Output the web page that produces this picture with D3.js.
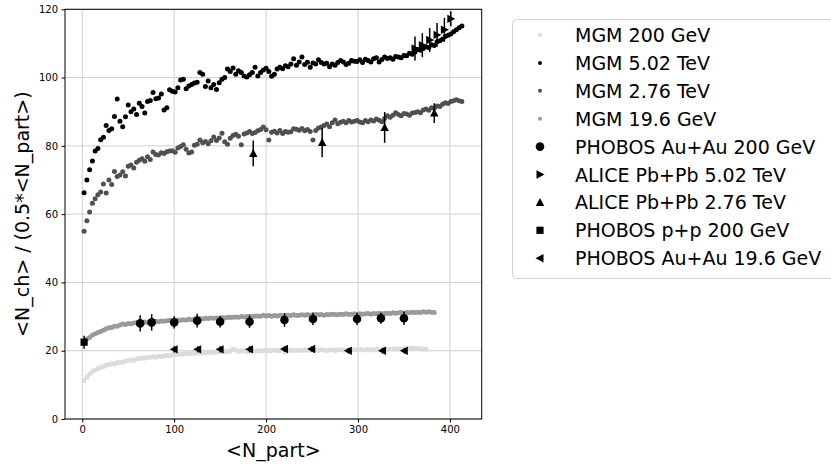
<!DOCTYPE html>
<html><head><meta charset="utf-8">
<script src="https://cdn.jsdelivr.net/npm/d3@7"></script>
<style>body{margin:0;background:#fff}svg{display:block}text{font-family:"DejaVu Sans",sans-serif}</style>
</head><body>
<svg id="c" width="831" height="464"></svg>
<script>
// ---- data ----
const nPart = [2,5,8,11,14,17,20,23,26,29,32,35,38,41,44,47,50,53,56,59,62,65,68,71,74,77,80,83,86,89,92,95,98,101,104,107,110,113,116,119,122,125,128,131,134,137,140,143,146,149,152,155,158,161,164,167,170,173,176,179,182,185,188,191,194,197,200,203,206,209,212,215,218,221,224,227,230,233,236,239,242,245,248,251,254,257,260,263,266,269,272,275,278,281,284,287,290,293,296,299,302,305,308,311,314,317,320,323,326,329,332,335,338,341,344,347,350,353,356,359,362,365,368,371,374,377,380,383,386,389,392,395,398,401,404,407,410,413];

const mgm502 = [66.3,70,73,75.6,78.5,79.2,81.8,82.5,86,84.5,85,88.6,93.7,87.2,85.6,88.5,92,90,90.8,89.2,92.5,91.5,89.6,93,93.3,95.6,93.8,94,95.2,90.5,91.2,96.4,96,95.8,97,99.3,99.5,96.7,97.5,98,98.4,98.6,101.5,101,97.4,99,97,98,96.5,98.5,99.5,100,102.5,101.8,102.8,101,102,101.5,100.5,100.2,100.8,101.5,103,100.5,101.5,102.2,102.7,101.8,100.4,101,102.5,103,102.6,103.5,103.2,104,105.5,103.6,104.6,106,103.8,104.5,103,104.3,104,105.2,104.4,104,104.2,103.2,104,103.6,104.4,105,104.6,103.8,104.2,105,104.8,104.7,105.2,104.4,105.4,105,104.6,105.5,105.8,104.6,105.3,106,105.6,105.8,105.4,106.2,106,105.8,106.5,106.4,107.1,106.8,107.5,108.2,108,108.5,109,108.8,109.6,109.4,110.5,110.8,111.2,112,112.4,112.8,113.4,114,114.6,115.1];

const mgm276 = [55,58.1,60.6,63.2,64.5,65.7,66.5,68.8,66.2,70,68.7,72.5,71,71.5,72.4,71.2,74,74.4,73.5,75.2,75.8,76.2,75.5,76.8,76,78.2,77.5,77.3,78,77.8,78.3,78.5,78.6,78.1,79.4,79.8,80.3,79,77.9,78.2,80.2,80.5,81.7,80.9,81.3,80.6,81.5,82.6,81.6,82.3,83.7,81.2,80.5,82.2,83,83.4,82.8,80.3,83.5,83.8,84.2,83.6,83.9,84.4,84.8,85.5,84.7,81.7,84,84.3,83.8,84.5,83.6,84.2,84,84.1,85,84.9,84.6,85.1,84.4,84.8,84.2,81.7,84.5,85.2,85.5,86,86.4,85.6,86.8,87.6,86.5,86.9,87.2,86.8,87.4,87,87.2,87.4,87,86.8,87.4,87.1,87.6,87.3,87.9,87.5,87.1,88,88.8,88.4,89,89.7,89.2,88.8,89.5,89.3,89,89.6,89.8,90,89.7,90.5,90.8,90.4,91.2,91,91.7,91.5,92.2,92.6,92.4,93,93.2,93.5,93.2,93];

const mgm196 = [22.8,23.4,23.9,24.5,25,25.3,25.6,26,26.4,26.7,26.8,27.2,27.2,27.5,27.8,27.7,28,27.9,28.1,28.2,28.3,28.1,28.4,28.3,28.5,28.4,28.6,28.5,28.7,28.6,28.8,28.9,28.7,28.9,29,28.9,29.1,29,29.2,29.1,29.3,29.2,29.4,29.3,29.5,29.4,29.6,29.5,29.6,29.5,29.7,29.6,29.8,29.7,29.8,29.9,29.8,30,29.9,30,30.1,30,30.1,30.2,30.1,30.4,30.2,30.3,30.1,30.3,30.2,30.4,30.2,30.3,30.4,30.3,30.5,30.3,30.4,30.5,30.4,30.6,30.4,30.5,30.6,30.5,30.6,30.4,30.6,30.5,30.7,30.6,30.5,30.7,30.6,30.8,30.6,30.7,30.8,30.6,30.8,30.7,30.8,30.9,30.7,30.9,30.8,31,30.8,30.9,31,30.9,31.1,31,31.1,31.2,31,31.2,31.1,31.3,31.2,31.3,31.2,31.4,31.3,31.4,31.3,31.2];

const mgm200 = [11.2,12.2,13.2,13.9,14.3,14.8,15.1,15.4,15.8,15.9,16.2,16.1,16.5,16.7,16.6,17,17.1,17.3,17.2,17.6,17.7,17.8,17.9,18,18.1,18.2,18.1,18.4,18.3,18.5,18.6,18.5,18.8,19,18.9,19.1,19,19.2,19.1,19.3,19.2,19.4,19.3,19.5,19.4,19.4,19.6,19.5,19.7,19.6,19.7,19.8,19.7,19.9,20.4,20.2,19.8,19.9,20,19.8,20,20.1,19.9,20,20.1,20,20.2,20,20.1,20.2,20.1,20,20.2,19.6,20.1,20.2,20,20.1,20.2,20.1,20.3,20.1,20.2,20,20.2,20.1,20.3,20.2,20.1,20.2,20.3,20.1,20.2,20.3,20.2,20.1,20.3,20.2,20.3,20.2,20.4,20.3,20.2,20.4,20.3,20.2,20.4,20.3,20.4,20.5,20.3,20.4,20.5,20.4,20.6,20.5,20.6,20.5,20.7,20.8,20.6,20.7,20.6,20.5,20.4];

const phobosAuAu200X = [63,75.5,100,125,150,182,220,251,299,325,350];
const phobosAuAu200Y = [28,28.3,28.3,28.8,28.5,28.5,29,29.3,29.3,29.5,29.5];
const phobosAuAu200E = [2.4,2.4,1.8,2,1.7,1.8,2,1.8,1.8,1.6,2];

const alice502X = [362,370,378,386,394,401];
const alice502Y = [108.5,109.5,111,112.5,114,117.2];
const alice502E = [3.5,3.5,3.5,3.5,3.5,2.2];

const alice276X = [186,261,329,383];
const alice276Y = [77.8,81,85.4,89.6];
const alice276E = [3.8,4.3,4.5,2.9];

const phobosPPX = [2];
const phobosPPY = [22.5];
const phobosPPE = [1.9];

const phobosAuAu196X = [100,125.6,150,182,220,249.6,289.5,326.7,350.4];
const phobosAuAu196Y = [20.4,20.4,20.4,20.4,20.5,20.5,20,20,20];
const phobosAuAu196E = [0.9,0.9,0.9,0.9,0.8,0.8,0.8,0.8,0.8];

const xTicks = [0,100,200,300,400];
const yTicks = [0,20,40,60,80,100,120];
const legendLabels = ["MGM 200 GeV","MGM 5.02 TeV","MGM 2.76 TeV","MGM 19.6 GeV","PHOBOS Au+Au 200 GeV","ALICE Pb+Pb 5.02 TeV","ALICE Pb+Pb 2.76 TeV","PHOBOS p+p 200 GeV","PHOBOS Au+Au 19.6 GeV"];

// ---- layout ----
const svg = d3.select("#c");
const L=65, R=481.7, T=9.3, B=419;
const x = d3.scaleLinear().domain([-18.8,434.6]).range([L,R]);
const y = d3.scaleLinear().domain([0,120]).range([B,T]);

// grid
const g = svg.append("g");
g.selectAll(".gx").data(xTicks).join("line").attr("x1",d=>x(d)).attr("x2",d=>x(d)).attr("y1",T).attr("y2",B).attr("stroke","#cfcfcf").attr("stroke-width",1);
g.selectAll(".gy").data(yTicks).join("line").attr("x1",L).attr("x2",R).attr("y1",d=>y(d)).attr("y2",d=>y(d)).attr("stroke","#cfcfcf").attr("stroke-width",1);

// axes
const xa = svg.append("g").attr("transform",`translate(0,${B})`).call(d3.axisBottom(x).tickValues(xTicks).tickSize(3.5).tickPadding(3.5));
const ya = svg.append("g").attr("transform",`translate(${L},0)`).call(d3.axisLeft(y).tickValues(yTicks).tickSize(3.5).tickPadding(3.5));
[xa,ya].forEach(a=>{a.select(".domain").remove();a.selectAll("text").attr("font-size",10).attr("font-family","DejaVu Sans").attr("fill","#000");a.selectAll("line").attr("stroke","#000");});
svg.append("rect").attr("x",L).attr("y",T).attr("width",R-L).attr("height",B-T).attr("fill","none").attr("stroke","#000").attr("stroke-width",1);

// MGM scatter
function mgm(vals,color){
  svg.append("g").selectAll("circle").data(vals.map((v,i)=>[nPart[i],v])).join("circle")
    .attr("cx",d=>x(d[0])).attr("cy",d=>y(d[1])).attr("r",2.5).attr("fill",color);
}
const cLight="#dcdcdc", cBlack="#000000", cDark="#505050", cMid="#9a9a9a";
mgm(mgm200,cLight);
mgm(mgm502,cBlack);
mgm(mgm276,cDark);
mgm(mgm196,cMid);

// markers
const shapes = {
  circle:(s)=>{s.append("circle").attr("r",4.3);},
  right:(s)=>{s.append("path").attr("d","M4.5,0L-3.5,-4.2L-3.5,4.2Z");},
  left:(s)=>{s.append("path").attr("d","M-4.5,0L3.5,-4.2L3.5,4.2Z");},
  up:(s)=>{s.append("path").attr("d","M0,-4.5L4.2,3.5L-4.2,3.5Z");},
  square:(s)=>{s.append("rect").attr("x",-3.6).attr("y",-3.6).attr("width",7.2).attr("height",7.2);}
};
function expt(xs,ys,es,shape){
  const gg = svg.append("g");
  gg.selectAll("line").data(xs.map((v,i)=>[v,ys[i],es[i]])).join("line")
    .attr("x1",d=>x(d[0])).attr("x2",d=>x(d[0])).attr("y1",d=>y(d[1]-d[2])).attr("y2",d=>y(d[1]+d[2]))
    .attr("stroke","#000").attr("stroke-width",1.5);
  gg.selectAll("g").data(xs.map((v,i)=>[v,ys[i]])).join("g")
    .attr("transform",d=>`translate(${x(d[0])},${y(d[1])})`).attr("fill","#000")
    .each(function(){shapes[shape](d3.select(this));});
}
expt(phobosAuAu200X,phobosAuAu200Y,phobosAuAu200E,"circle");
expt(alice502X,alice502Y,alice502E,"right");
expt(alice276X,alice276Y,alice276E,"up");
expt(phobosPPX,phobosPPY,phobosPPE,"square");
expt(phobosAuAu196X,phobosAuAu196Y,phobosAuAu196E,"left");

// axis labels
svg.append("text").attr("x",(L+R)/2).attr("y",457).attr("text-anchor","middle").attr("font-size",19).text("<N_part>");
svg.append("text").attr("transform",`translate(29,${(T+B)/2}) rotate(-90)`).attr("text-anchor","middle").attr("font-size",19).text("<N_ch> / (0.5*<N_part>)");

// legend
const lg = svg.append("g");
lg.append("rect").attr("x",512.5).attr("y",19.5).attr("width",330).attr("height",259).attr("rx",4).attr("fill","#fff").attr("stroke","#d0d0d0");
const legMark = [["dot",cLight],["dot",cBlack],["dot",cDark],["dot",cMid],["circle"],["right"],["up"],["square"],["left"]];
legendLabels.forEach((lab,i)=>{
  const cy = 35 + i*27.9;
  const m = lg.append("g").attr("transform",`translate(540,${cy})`).attr("fill","#000");
  if(legMark[i][0]==="dot") m.append("circle").attr("r",2).attr("fill",legMark[i][1]);
  else shapes[legMark[i][0]](m);
  lg.append("text").attr("x",575).attr("y",cy+7).attr("font-size",19).attr("fill","#000").text(lab);
});
</script>
</body></html>
